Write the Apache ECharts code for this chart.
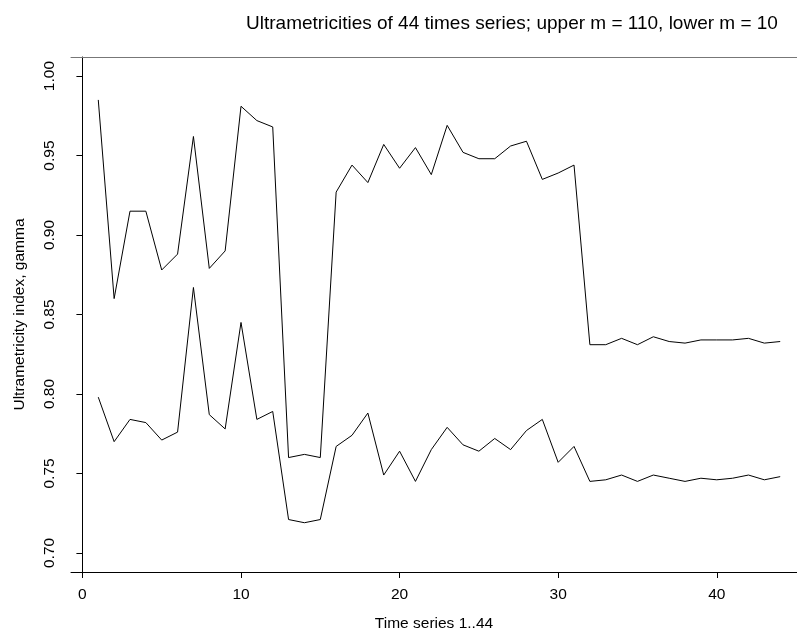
<!DOCTYPE html>
<html>
<head>
<meta charset="utf-8">
<script src="https://cdn.jsdelivr.net/npm/echarts@6/dist/echarts.min.js"></script>
<style>
  html, body { margin: 0; padding: 0; background: #fff; }
  #chart { width: 797px; height: 637px; }
</style>
</head>
<body>
<div id="chart"></div>
<script>
// time series index 1..44
const seriesIdx = Array.from({ length: 44 }, (_, i) => i + 1);

// upper curve, m = 110
const upperVals = [
  0.985, 0.860, 0.915, 0.915, 0.878, 0.888, 0.962, 0.879, 0.890, 0.981,
  0.972, 0.968, 0.760, 0.762, 0.760, 0.927, 0.944, 0.933, 0.957, 0.942,
  0.955, 0.938, 0.969, 0.952, 0.948, 0.948, 0.956, 0.959, 0.935, 0.939,
  0.944, 0.831, 0.831, 0.835, 0.831, 0.836, 0.833, 0.832, 0.834, 0.834,
  0.834, 0.835, 0.832, 0.833
];

// lower curve, m = 10
const lowerVals = [
  0.798, 0.770, 0.784, 0.782, 0.771, 0.776, 0.867, 0.787, 0.778, 0.845,
  0.784, 0.789, 0.721, 0.719, 0.721, 0.767, 0.774, 0.788, 0.749, 0.764,
  0.745, 0.765, 0.779, 0.768, 0.764, 0.772, 0.765, 0.777, 0.784, 0.757,
  0.767, 0.745, 0.746, 0.749, 0.745, 0.749, 0.747, 0.745, 0.747, 0.746,
  0.747, 0.749, 0.746, 0.748
];

const xTicks = [0, 10, 20, 30, 40];
const yTicks = [0.70, 0.75, 0.80, 0.85, 0.90, 0.95, 1.00];

const pairs = (ys) => seriesIdx.map((x, i) => [x, ys[i]]);

const chart = echarts.init(document.getElementById('chart'));
const font = 'Liberation Sans, Arial, Helvetica, sans-serif';

chart.setOption({
  animation: false,
  title: {
    text: 'Ultrametricities of 44 times series; upper m = 110, lower m = 10',
    left: 507,
    textAlign: 'center',
    top: 9,
    textStyle: { fontFamily: font, fontSize: 19, fontWeight: 'normal', color: '#000' }
  },
  grid: { left: 71, top: 57, right: 0, bottom: 61 },
  xAxis: [
    {
      type: 'value',
      min: -0.72, max: 45.06,   // plot region runs past the right edge (cropped)
      name: 'Time series 1..44',
      nameLocation: 'middle',
      nameGap: 44,
      nameTextStyle: { fontFamily: font, fontSize: 15.5, color: '#000' },
      axisLine: { lineStyle: { color: '#000', width: 1 } },
      axisTick: { customValues: xTicks, length: 6, lineStyle: { color: '#000' } },
      axisLabel: { customValues: xTicks, margin: 15, fontFamily: font, fontSize: 15.5, color: '#000' },
      splitLine: { show: false }
    },
    {
      // top edge of the frame
      type: 'value', position: 'top',
      min: -0.72, max: 45.06,
      axisLine: { show: true, lineStyle: { color: '#777', width: 1 } },
      axisTick: { show: false },
      axisLabel: { show: false },
      splitLine: { show: false }
    }
  ],
  yAxis: {
    type: 'value',
    min: 0.688, max: 1.012,
    name: 'Ultrametricity index, gamma',
    nameLocation: 'middle',
    nameRotate: 90,
    nameGap: 43,
    nameTextStyle: { fontFamily: font, fontSize: 15.5, color: '#000' },
    axisLine: { show: true, lineStyle: { color: '#000', width: 1 } },
    axisTick: { show: true, customValues: yTicks, length: 6, lineStyle: { color: '#000' } },
    axisLabel: {
      customValues: yTicks, rotate: 90, margin: 13,
      fontFamily: font, fontSize: 15.5, color: '#000',
      formatter: (v) => v.toFixed(2)
    },
    splitLine: { show: false }
  },
  series: [
    {
      name: 'upper', type: 'line', data: pairs(upperVals),
      showSymbol: false, symbol: 'none',
      lineStyle: { color: '#000', width: 1 }
    },
    {
      name: 'lower', type: 'line', data: pairs(lowerVals),
      showSymbol: false, symbol: 'none',
      lineStyle: { color: '#000', width: 1 }
    }
  ]
});
</script>
</body>
</html>
